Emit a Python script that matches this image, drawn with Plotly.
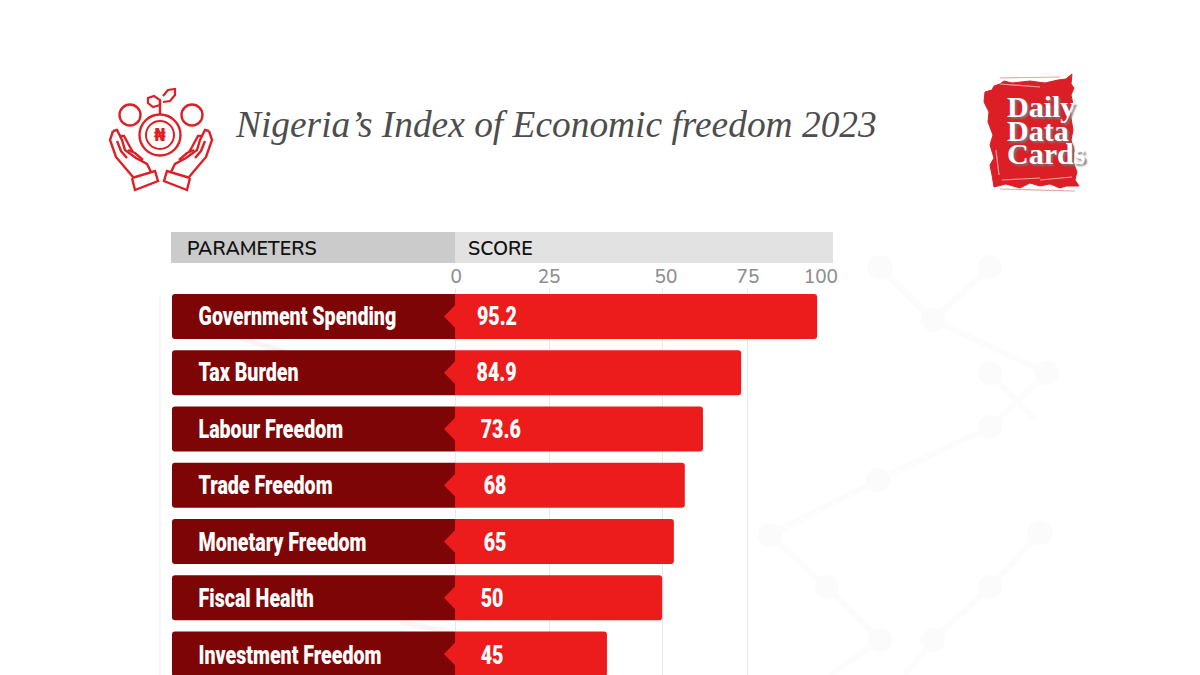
import plotly.graph_objects as go

# ---------- data ----------
title = "Nigeria’s Index of Economic freedom 2023"
categories = ["Government Spending", "Tax Burden", "Labour Freedom", "Trade Freedom",
              "Monetary Freedom", "Fiscal Health", "Investment Freedom"]
score_labels = ["95.2", "84.9", "73.6", "68", "65", "50", "45"]
# drawn bar lengths on the printed axis (the picture's bars do not follow their printed scores)
bar_lengths = [95.8, 75.7, 65.6, 60.8, 57.9, 54.8, 40.2]
tick_labels = ["0", "25", "50", "75", "100"]
tick_label_positions = [0.3, 24.9, 55.8, 77.5, 96.8]
gridline_positions = [0, 24.9, 54.8, 77.5, 100]
score_text_x = [5.8, 5.7, 6.8, 7.6, 7.6, 6.8, 6.8]

# ---------- layout helpers ----------
W, H = 1200, 675
PX = 3.78           # pixels per x unit
X0 = 455            # pixel of x=0
def px(x): return x / W
def py(y): return 1 - y / H
def xv(p): return (p - X0) / PX

rows = list(range(len(categories)))
ROW0, PITCH = 316.5, 56.25
plot_left, plot_right, plot_top = 160, 833, 288
yr = [(H - ROW0) / PITCH, (plot_top - ROW0) / PITCH]
DARK_LEFT = xv(172)
RED = "#ec1c1c"
DARK = "#7e0505"

fig = go.Figure()
fig.add_bar(y=rows, x=[DARK_LEFT] * len(rows), orientation="h", width=0.8,
            marker=dict(color=DARK, line_width=0), hoverinfo="skip", showlegend=False)
fig.add_bar(y=rows, x=bar_lengths, orientation="h", width=0.8,
            marker=dict(color=RED, line_width=0), showlegend=False,
            customdata=score_labels, hovertemplate="%{customdata}<extra></extra>")

# notches
nx, ny = [], []
for r in rows:
    nx += [0, xv(444), 0, None]
    ny += [r - 0.2, r, r + 0.2, None]
fig.add_scatter(x=nx, y=ny, mode="lines", fill="toself", fillcolor=RED,
                line=dict(width=0, color=RED), hoverinfo="skip", showlegend=False)

label_font = dict(family="Roboto, sans-serif", size=25, color="white", weight=900)
label_y = [r + 0.035 + 0.004 * r for r in rows]
fig.add_scatter(x=[xv(198.5)] * len(rows), y=label_y, mode="text", text=categories,
                textposition="middle right", textfont=label_font,
                hoverinfo="skip", showlegend=False)
fig.add_scatter(x=score_text_x, y=label_y, mode="text", text=score_labels,
                textposition="middle right", textfont=label_font,
                hoverinfo="skip", showlegend=False)

shapes = []
def rect(x0, y0, x1, y1, color):
    shapes.append(dict(type="rect", xref="paper", yref="paper", x0=px(x0), x1=px(x1),
                       y0=py(y1), y1=py(y0), fillcolor=color, line_width=0, layer="below"))
def circle(cx, cy, r, color, width=2.4):
    shapes.append(dict(type="circle", xref="paper", yref="paper", x0=px(cx - r), x1=px(cx + r),
                       y0=py(cy + r), y1=py(cy - r), line=dict(color=color, width=width)))
def poly(points, color, width=2.4, fill=None, close=False, layer="above"):
    d = "M " + " L ".join(f"{px(a):.5f},{py(b):.5f}" for a, b in points) + (" Z" if close else "")
    s = dict(type="path", xref="paper", yref="paper", path=d, layer=layer,
             line=dict(color=color, width=width))
    if fill:
        s["fillcolor"] = fill
    shapes.append(s)

# faint background motif
WM = "#fbfbfb"
for seg in [[(880, 267), (933, 320), (990, 267)],
            [(933, 320), (1047, 373), (990, 427), (878, 480), (770, 535), (827, 587), (880, 640), (830, 675)],
            [(990, 373), (1035, 420)],
            [(905, 675), (933, 640), (990, 587), (1040, 533)]]:
    poly(seg, "#fcfcfc", width=6, layer="below")
for c in [(880, 267), (933, 320), (990, 267), (1047, 373), (990, 373), (990, 427), (878, 480),
          (770, 535), (827, 587), (880, 640), (933, 640), (990, 587), (1040, 533)]:
    shapes.append(dict(type="circle", xref="paper", yref="paper", layer="below", line_width=0, fillcolor=WM,
                       x0=px(c[0] - 12), x1=px(c[0] + 12), y0=py(c[1] + 12), y1=py(c[1] - 12)))
poly([(240, 338), (285, 352)], "#fdf3f3", width=5, layer="below")
poly([(400, 622), (450, 632)], "#fdf3f3", width=5, layer="below")
poly([(plot_left, 297), (plot_left, H)], "#f4f4f4", width=1.5, layer="below")

# header bands
rect(171, 232, X0, 263, "#cbcbcb")
rect(X0, 232, plot_right, 263, "#e2e2e2")

# hand/coin emblem
E = "#dd2025"
circle(130, 115, 10.5, E)
circle(192, 115, 10.5, E)
circle(160, 135, 20.5, E)
circle(160, 135, 14, E, 2)
poly([(160, 114), (160, 100)], E)
poly([(160, 105), (153, 107), (148, 103), (148, 98), (154, 96), (160, 100), (160, 105)], E, 2.2)
poly([(163, 102), (170, 101), (175, 95), (175, 89), (168, 90), (163, 96)], E, 2.2)
left_hand = [[(113, 131), (110, 140), (116, 157), (133, 177)],
             [(113, 131), (117, 130), (122, 140), (125, 150), (136, 158), (147, 164), (151, 172)],
             [(120, 136), (124, 136), (130, 147), (133, 152)],
             [(117, 141), (121, 151), (127, 158)],
             [(128, 150), (135, 153), (143, 160)],
             [(132, 178), (155, 171), (158, 181), (135, 190), (132, 178)]]
for part in left_hand:
    poly(part, E)
    poly([(322 - a, b) for a, b in part], E)

# logo blotch
L = "#dc1f26"
poly([(985, 92), (992, 90), (994, 86), (1000, 84), (1004, 81), (1012, 83), (1030, 81), (1045, 83),
      (1058, 80), (1066, 79), (1072, 74), (1071, 84), (1074, 88), (1071, 95), (1073, 104), (1070, 112),
      (1073, 130), (1071, 140), (1074, 150), (1073, 162), (1077, 172), (1075, 180), (1079, 186),
      (1066, 186), (1060, 188), (1050, 184), (1040, 186), (1030, 183), (1020, 188), (1006, 184),
      (994, 187), (992, 175), (990, 165), (994, 158), (990, 145), (993, 135), (988, 122), (989, 112), (984, 102)],
     L, width=1, fill=L, close=True)
for a, b in [((1000, 78), (1060, 77)), ((1000, 189), (1075, 191)), ((1002, 180), (1040, 178)),
             ((1040, 180), (1072, 177)), ((996, 150), (999, 175)), ((1000, 84), (1040, 87))]:
    poly([a, b], "#f0a0a3", width=1.2)

# ---------- text ----------
def note(text, x, y, font, anchor="left"):
    return dict(text=text, x=px(x), y=py(y), xref="paper", yref="paper", showarrow=False,
                xanchor=anchor, yanchor="middle", font=font, align="left")

head = dict(family="Nunito, Noto Sans, sans-serif", size=19.5, color="#111111", weight=600)
logo_font = dict(family="Liberation Serif, serif", size=30, color="white", weight="bold",
                 shadow="2px 2px 2px #777777")
annotations = [
    note(title, 233, 124, dict(family="Liberation Serif, serif", size=37.4, color="#4d4d4d", style="italic")),
    note("PARAMETERS", 185, 249, head),
    note("SCORE", 466, 249, head),
    note("₦", 160, 135, dict(family="DejaVu Sans, sans-serif", size=17, color=E, weight="bold"), anchor="center"),
    note("Daily", 1005, 106.5, logo_font),
    note("Data", 1005, 130.5, logo_font),
    note("Cards", 1005, 153.5, logo_font),
]

fig.update_layout(
    width=W, height=H, margin=dict(l=0, r=0, t=0, b=0, autoexpand=False), autosize=False,
    paper_bgcolor="white", plot_bgcolor="rgba(0,0,0,0)",
    barmode="overlay", barcornerradius=3, showlegend=False,
    shapes=shapes, annotations=annotations,
    xaxis=dict(domain=[px(plot_left), px(plot_right)], range=[xv(plot_left), 100], side="top",
               automargin=False,
               tickmode="array", tickvals=tick_label_positions, ticktext=tick_labels,
               showgrid=False, zeroline=False, showline=False, ticks="",
               tickfont=dict(family="Nunito, Noto Sans, sans-serif", size=19, color="#8e8e8e", weight=500),
               minor=dict(tickmode="array", tickvals=gridline_positions, showgrid=True,
                          gridcolor="#e9e9e9", gridwidth=1, ticks="")),
    yaxis=dict(domain=[0, py(plot_top)], range=yr, showticklabels=False, showgrid=False,
               automargin=False, zeroline=False, showline=False, ticks=""),
)

# Anton-like condensed look: squeeze the row labels horizontally (they stay real text)
post = """
document.body.style.margin='0';document.body.style.overflow='hidden';
document.fonts.ready.then(function(){
  document.querySelectorAll('.textpoint text').forEach(function(t){
    t.setAttribute('lengthAdjust','spacingAndGlyphs');
    t.setAttribute('textLength', t.getComputedTextLength()*0.785);
  });
});
"""
fig.write_html("out.html", config=dict(displayModeBar=False), post_script=post)
